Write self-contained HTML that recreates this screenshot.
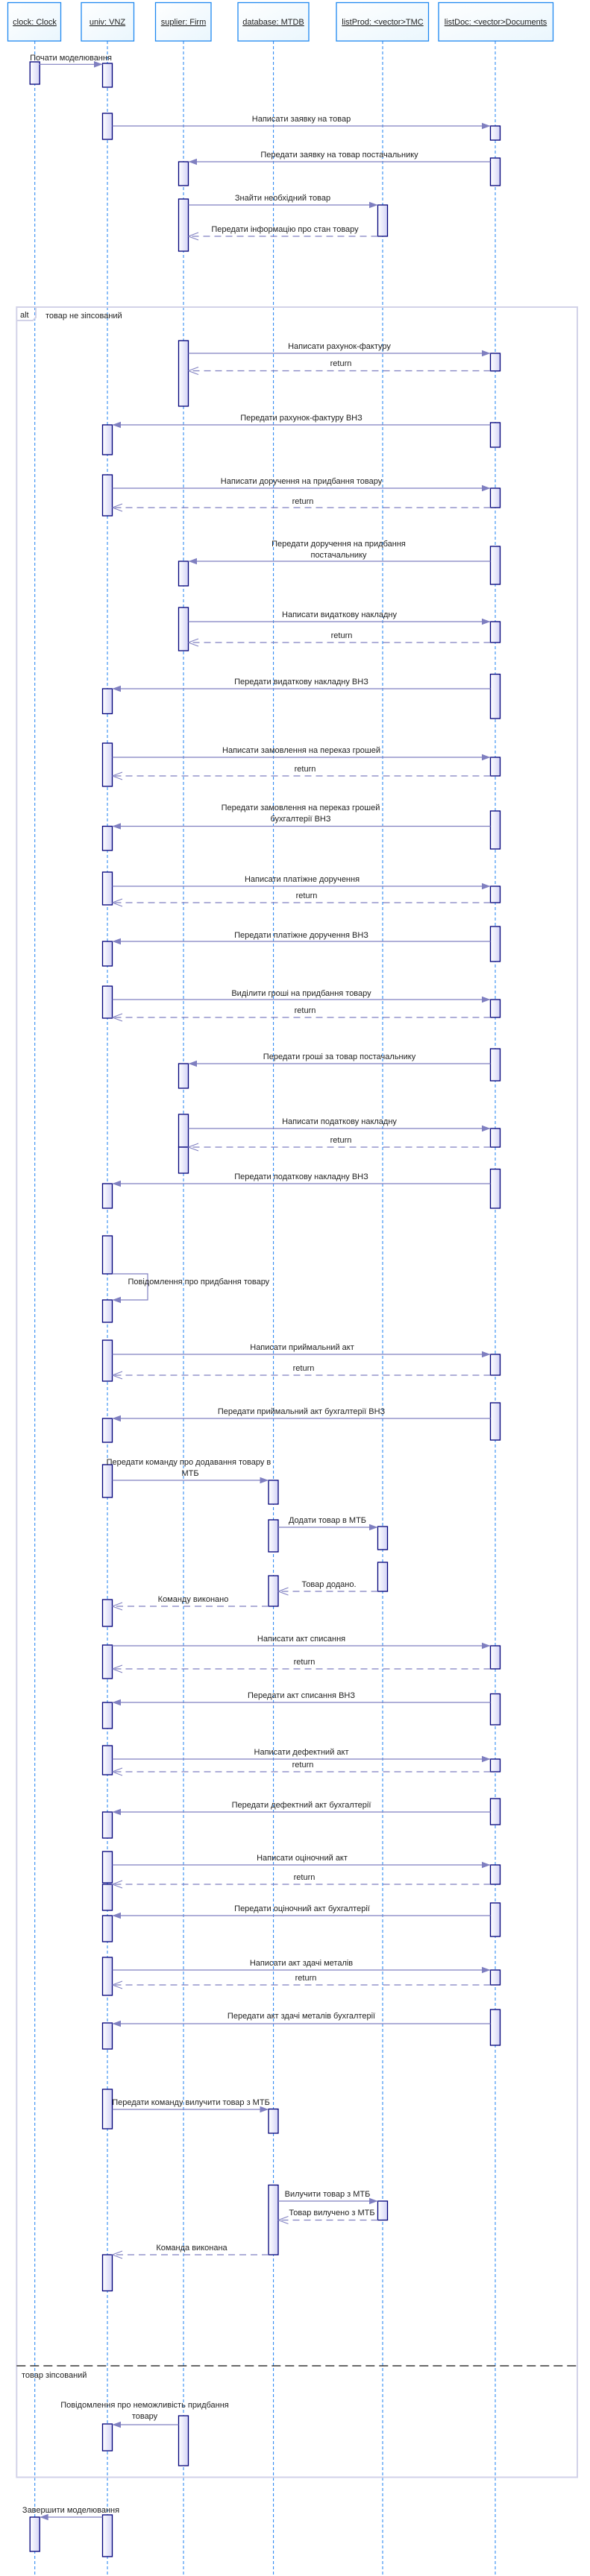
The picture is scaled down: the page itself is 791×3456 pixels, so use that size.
<!DOCTYPE html>
<html><head><meta charset="utf-8">
<style>
html,body{margin:0;padding:0;background:#fff;}
svg{display:block;}
text{font-family:"Liberation Sans","Noto Sans CJK SC",sans-serif;font-size:11px;fill:#222;}
.hd{fill:url(#hg);stroke:#1e88f0;stroke-width:1.3;}
.ll{stroke:#1e80f0;stroke-width:1;stroke-dasharray:4,3;}
.a{fill:url(#ag);stroke:#00007a;stroke-width:1.3;}
.m{stroke:#7f7fc0;stroke-width:1.2;fill:none;}
.r{stroke:#7f7fc0;stroke-width:1.2;fill:none;stroke-dasharray:9,6;}
.ah{fill:#7f7fc0;}
.oh{stroke:#7f7fc0;stroke-width:1;fill:none;}
.c{text-anchor:middle;}
</style></head>
<body>
<svg width="791" height="3456" viewBox="0 0 791 3456" xmlns="http://www.w3.org/2000/svg">
<defs>
<linearGradient id="hg" x1="0" y1="0" x2="1" y2="1"><stop offset="0" stop-color="#ffffff"/><stop offset="1" stop-color="#eaf6fd"/></linearGradient>
<linearGradient id="ag" x1="0" y1="0" x2="1" y2="0"><stop offset="0" stop-color="#ffffff"/><stop offset="1" stop-color="#d4d4f6"/></linearGradient>
</defs>

<!-- headers -->
<rect class="hd" x="10.5" y="3.5" width="71" height="51.5"/>
<rect class="hd" x="109" y="3.5" width="70.5" height="51.5"/>
<rect class="hd" x="208.5" y="3.5" width="74.5" height="51.5"/>
<rect class="hd" x="319" y="3.5" width="95" height="51.5"/>
<rect class="hd" x="451" y="3.5" width="123.5" height="51.5"/>
<rect class="hd" x="588" y="3.5" width="153.5" height="51.5"/>
<text class="c" x="46.5" y="33" text-decoration="underline">clock: Clock</text>
<text class="c" x="144" y="33" text-decoration="underline">univ: VNZ</text>
<text class="c" x="246" y="33" text-decoration="underline">suplier: Firm</text>
<text class="c" x="366.5" y="33" text-decoration="underline">database: MTDB</text>
<text class="c" x="513" y="33" text-decoration="underline">listProd: &lt;vector&gt;TMC</text>
<text class="c" x="664.5" y="33" text-decoration="underline">listDoc: &lt;vector&gt;Documents</text>

<!-- lifelines -->
<line class="ll" x1="46.7" y1="55" x2="46.7" y2="3456"/>
<line class="ll" x1="144" y1="55" x2="144" y2="3456"/>
<line class="ll" x1="246" y1="55" x2="246" y2="3456"/>
<line class="ll" x1="366.6" y1="55" x2="366.6" y2="3456"/>
<line class="ll" x1="513" y1="55" x2="513" y2="3456"/>
<line class="ll" x1="664" y1="55" x2="664" y2="3456"/>

<!-- frame -->
<rect x="22.3" y="412" width="751.7" height="2911.5" fill="none" stroke="#d2d2e8" stroke-width="2"/>
<path d="M22.3,430 H44 L48,426 V412" fill="none" stroke="#d2d2e8" stroke-width="2"/>
<text x="27" y="426">alt</text>
<text x="61" y="427">товар не зіпсований</text>
<line x1="22.3" y1="3174" x2="774" y2="3174" stroke="#111" stroke-width="1.2" stroke-dasharray="12,6"/>
<text x="29" y="3190">товар зіпсований</text>

<!-- activations -->
<g class="a">
<rect class="a" x="40.2" y="83" width="13" height="30"/>
<rect class="a" x="40.2" y="3377" width="13" height="46"/>
<rect class="a" x="137.5" y="85" width="13" height="32"/>
<rect class="a" x="137.5" y="152" width="13" height="35"/>
<rect class="a" x="137.5" y="570" width="13" height="40"/>
<rect class="a" x="137.5" y="637" width="13" height="55"/>
<rect class="a" x="137.5" y="924" width="13" height="33.5"/>
<rect class="a" x="137.5" y="997" width="13" height="58"/>
<rect class="a" x="137.5" y="1108.5" width="13" height="32.5"/>
<rect class="a" x="137.5" y="1170" width="13" height="44"/>
<rect class="a" x="137.5" y="1263" width="13" height="33"/>
<rect class="a" x="137.5" y="1323" width="13" height="43"/>
<rect class="a" x="137.5" y="1588" width="13" height="33"/>
<rect class="a" x="137.5" y="1658" width="13" height="51"/>
<rect class="a" x="137.5" y="1744" width="13" height="30"/>
<rect class="a" x="137.5" y="1798" width="13" height="55"/>
<rect class="a" x="137.5" y="1903" width="13" height="32"/>
<rect class="a" x="137.5" y="1965" width="13" height="44"/>
<rect class="a" x="137.5" y="2146" width="13" height="36"/>
<rect class="a" x="137.5" y="2207" width="13" height="45"/>
<rect class="a" x="137.5" y="2284" width="13" height="35"/>
<rect class="a" x="137.5" y="2342" width="13" height="39"/>
<rect class="a" x="137.5" y="2431" width="13" height="35"/>
<rect class="a" x="137.5" y="2484" width="13" height="42"/>
<rect class="a" x="137.5" y="2528" width="13" height="35"/>
<rect class="a" x="137.5" y="2570" width="13" height="35"/>
<rect class="a" x="137.5" y="2626" width="13" height="51"/>
<rect class="a" x="137.5" y="2714" width="13" height="35"/>
<rect class="a" x="137.5" y="2803" width="13" height="53"/>
<rect class="a" x="137.5" y="3025" width="13" height="48.5"/>
<rect class="a" x="137.5" y="3252" width="13" height="36"/>
<rect class="a" x="137.5" y="3374" width="13" height="56"/>

<rect class="a" x="239.5" y="217" width="13" height="32"/>
<rect class="a" x="239.5" y="267" width="13" height="70"/>
<rect class="a" x="239.5" y="457" width="13" height="88"/>
<rect class="a" x="239.5" y="753" width="13" height="33"/>
<rect class="a" x="239.5" y="815" width="13" height="58"/>
<rect class="a" x="239.5" y="1427" width="13" height="33"/>
<rect class="a" x="239.5" y="1495" width="13" height="44"/>
<rect class="a" x="239.5" y="1539" width="13" height="35"/>
<rect class="a" x="239.5" y="3241" width="13" height="67"/>

<rect class="a" x="360" y="1986" width="13" height="32"/>
<rect class="a" x="360" y="2039" width="13" height="43"/>
<rect class="a" x="360" y="2114" width="13" height="41"/>
<rect class="a" x="360" y="2829.5" width="13" height="32.5"/>
<rect class="a" x="360" y="2931.5" width="13" height="93.5"/>

<rect class="a" x="506.5" y="275" width="13" height="42"/>
<rect class="a" x="506.5" y="2048" width="13" height="31"/>
<rect class="a" x="506.5" y="2096" width="13" height="39"/>
<rect class="a" x="506.5" y="2953" width="13" height="25.5"/>

<rect class="a" x="657.5" y="169" width="13" height="19"/>
<rect class="a" x="657.5" y="212" width="13" height="37"/>
<rect class="a" x="657.5" y="474" width="13" height="23.7"/>
<rect class="a" x="657.5" y="567" width="13" height="33"/>
<rect class="a" x="657.5" y="655" width="13" height="26"/>
<rect class="a" x="657.5" y="733" width="13" height="51"/>
<rect class="a" x="657.5" y="834" width="13" height="28"/>
<rect class="a" x="657.5" y="904.5" width="13" height="59.5"/>
<rect class="a" x="657.5" y="1016" width="13" height="25"/>
<rect class="a" x="657.5" y="1088" width="13" height="51"/>
<rect class="a" x="657.5" y="1189" width="13" height="22"/>
<rect class="a" x="657.5" y="1243" width="13" height="47"/>
<rect class="a" x="657.5" y="1341" width="13" height="24"/>
<rect class="a" x="657.5" y="1407" width="13" height="43"/>
<rect class="a" x="657.5" y="1514" width="13" height="25"/>
<rect class="a" x="657.5" y="1568.5" width="13" height="52.5"/>
<rect class="a" x="657.5" y="1817" width="13" height="28"/>
<rect class="a" x="657.5" y="1882" width="13" height="50"/>
<rect class="a" x="657.5" y="2208" width="13" height="31"/>
<rect class="a" x="657.5" y="2272.5" width="13" height="41.5"/>
<rect class="a" x="657.5" y="2360" width="13" height="17"/>
<rect class="a" x="657.5" y="2413" width="13" height="35"/>
<rect class="a" x="657.5" y="2502" width="13" height="26"/>
<rect class="a" x="657.5" y="2553" width="13" height="45"/>
<rect class="a" x="657.5" y="2643" width="13" height="20"/>
<rect class="a" x="657.5" y="2696" width="13" height="48"/>
</g>

<!-- rightwards -->
<line class="m" x1="52.8" y1="86.3" x2="137.5" y2="86.3"/><polygon class="ah" points="137.5,86.3 126,82 126,90.6"/>
<line class="m" x1="150.5" y1="169" x2="657.5" y2="169"/><polygon class="ah" points="657.5,169 646,164.7 646,173.3"/>
<line class="m" x1="252.5" y1="275" x2="506.5" y2="275"/><polygon class="ah" points="506.5,275 495,270.7 495,279.3"/>
<line class="m" x1="252.5" y1="474" x2="657.5" y2="474"/><polygon class="ah" points="657.5,474 646,469.7 646,478.3"/>
<line class="m" x1="150.5" y1="655" x2="657.5" y2="655"/><polygon class="ah" points="657.5,655 646,650.7 646,659.3"/>
<line class="m" x1="252.5" y1="834" x2="657.5" y2="834"/><polygon class="ah" points="657.5,834 646,829.7 646,838.3"/>
<line class="m" x1="150.5" y1="1016" x2="657.5" y2="1016"/><polygon class="ah" points="657.5,1016 646,1011.7 646,1020.3"/>
<line class="m" x1="150.5" y1="1189" x2="657.5" y2="1189"/><polygon class="ah" points="657.5,1189 646,1184.7 646,1193.3"/>
<line class="m" x1="150.5" y1="1341" x2="657.5" y2="1341"/><polygon class="ah" points="657.5,1341 646,1336.7 646,1345.3"/>
<line class="m" x1="252.5" y1="1514" x2="657.5" y2="1514"/><polygon class="ah" points="657.5,1514 646,1509.7 646,1518.3"/>
<line class="m" x1="150.5" y1="1817" x2="657.5" y2="1817"/><polygon class="ah" points="657.5,1817 646,1812.7 646,1821.3"/>
<line class="m" x1="150.5" y1="1986" x2="360" y2="1986"/><polygon class="ah" points="360,1986 348.5,1981.7 348.5,1990.3"/>
<line class="m" x1="373" y1="2049" x2="506.5" y2="2049"/><polygon class="ah" points="506.5,2049 495,2044.7 495,2053.3"/>
<line class="m" x1="150.5" y1="2208" x2="657.5" y2="2208"/><polygon class="ah" points="657.5,2208 646,2203.7 646,2212.3"/>
<line class="m" x1="150.5" y1="2360" x2="657.5" y2="2360"/><polygon class="ah" points="657.5,2360 646,2355.7 646,2364.3"/>
<line class="m" x1="150.5" y1="2502" x2="657.5" y2="2502"/><polygon class="ah" points="657.5,2502 646,2497.7 646,2506.3"/>
<line class="m" x1="150.5" y1="2643" x2="657.5" y2="2643"/><polygon class="ah" points="657.5,2643 646,2638.7 646,2647.3"/>
<line class="m" x1="150.5" y1="2830" x2="360" y2="2830"/><polygon class="ah" points="360,2830 348.5,2825.7 348.5,2834.3"/>
<line class="m" x1="373" y1="2953" x2="506.5" y2="2953"/><polygon class="ah" points="506.5,2953 495,2948.7 495,2957.3"/>
<!-- leftwards -->
<line class="m" x1="657.5" y1="217" x2="252.5" y2="217"/><polygon class="ah" points="252.5,217 264,212.7 264,221.3"/>
<line class="m" x1="657.5" y1="570" x2="150.5" y2="570"/><polygon class="ah" points="150.5,570 162,565.7 162,574.3"/>
<line class="m" x1="657.5" y1="753" x2="252.5" y2="753"/><polygon class="ah" points="252.5,753 264,748.7 264,757.3"/>
<line class="m" x1="657.5" y1="924" x2="150.5" y2="924"/><polygon class="ah" points="150.5,924 162,919.7 162,928.3"/>
<line class="m" x1="657.5" y1="1108.5" x2="150.5" y2="1108.5"/><polygon class="ah" points="150.5,1108.5 162,1104.2 162,1112.8"/>
<line class="m" x1="657.5" y1="1263" x2="150.5" y2="1263"/><polygon class="ah" points="150.5,1263 162,1258.7 162,1267.3"/>
<line class="m" x1="657.5" y1="1427" x2="252.5" y2="1427"/><polygon class="ah" points="252.5,1427 264,1422.7 264,1431.3"/>
<line class="m" x1="657.5" y1="1588" x2="150.5" y2="1588"/><polygon class="ah" points="150.5,1588 162,1583.7 162,1592.3"/>
<polyline class="m" points="150.5,1709 198,1709 198,1744 150.5,1744"/><polygon class="ah" points="150.5,1744 162,1739.7 162,1748.3"/>
<line class="m" x1="657.5" y1="1903" x2="150.5" y2="1903"/><polygon class="ah" points="150.5,1903 162,1898.7 162,1907.3"/>
<line class="m" x1="657.5" y1="2284" x2="150.5" y2="2284"/><polygon class="ah" points="150.5,2284 162,2279.7 162,2288.3"/>
<line class="m" x1="657.5" y1="2431" x2="150.5" y2="2431"/><polygon class="ah" points="150.5,2431 162,2426.7 162,2435.3"/>
<line class="m" x1="657.5" y1="2570" x2="150.5" y2="2570"/><polygon class="ah" points="150.5,2570 162,2565.7 162,2574.3"/>
<line class="m" x1="657.5" y1="2715" x2="150.5" y2="2715"/><polygon class="ah" points="150.5,2715 162,2710.7 162,2719.3"/>
<line class="m" x1="239.5" y1="3253" x2="150.5" y2="3253"/><polygon class="ah" points="150.5,3253 162,3248.7 162,3257.3"/>
<line class="m" x1="137.5" y1="3377" x2="53.2" y2="3377"/><polygon class="ah" points="53.2,3377 64.7,3372.7 64.7,3381.3"/>

<!-- returns -->
<line class="r" x1="506.5" y1="317" x2="252.5" y2="317"/><polyline class="oh" points="266,312 252.5,317 266,322"/>
<line class="r" x1="657.5" y1="497.5" x2="252.5" y2="497.5"/><polyline class="oh" points="266,492.5 252.5,497.5 266,502.5"/>
<line class="r" x1="657.5" y1="681" x2="150.5" y2="681"/><polyline class="oh" points="164,676 150.5,681 164,686"/>
<line class="r" x1="657.5" y1="862" x2="252.5" y2="862"/><polyline class="oh" points="266,857 252.5,862 266,867"/>
<line class="r" x1="657.5" y1="1041" x2="150.5" y2="1041"/><polyline class="oh" points="164,1036 150.5,1041 164,1046"/>
<line class="r" x1="657.5" y1="1211" x2="150.5" y2="1211"/><polyline class="oh" points="164,1206 150.5,1211 164,1216"/>
<line class="r" x1="657.5" y1="1365" x2="150.5" y2="1365"/><polyline class="oh" points="164,1360 150.5,1365 164,1370"/>
<line class="r" x1="657.5" y1="1539" x2="252.5" y2="1539"/><polyline class="oh" points="266,1534 252.5,1539 266,1544"/>
<line class="r" x1="657.5" y1="1845" x2="150.5" y2="1845"/><polyline class="oh" points="164,1840 150.5,1845 164,1850"/>
<line class="r" x1="506.5" y1="2135" x2="373" y2="2135"/><polyline class="oh" points="386.5,2130 373,2135 386.5,2140"/>
<line class="r" x1="360" y1="2155" x2="150.5" y2="2155"/><polyline class="oh" points="164,2150 150.5,2155 164,2160"/>
<line class="r" x1="657.5" y1="2239" x2="150.5" y2="2239"/><polyline class="oh" points="164,2234 150.5,2239 164,2244"/>
<line class="r" x1="657.5" y1="2377" x2="150.5" y2="2377"/><polyline class="oh" points="164,2372 150.5,2377 164,2382"/>
<line class="r" x1="657.5" y1="2528" x2="150.5" y2="2528"/><polyline class="oh" points="164,2523 150.5,2528 164,2533"/>
<line class="r" x1="657.5" y1="2663" x2="150.5" y2="2663"/><polyline class="oh" points="164,2658 150.5,2663 164,2668"/>
<line class="r" x1="506.5" y1="2978.5" x2="373" y2="2978.5"/><polyline class="oh" points="386.5,2973.5 373,2978.5 386.5,2983.5"/>
<line class="r" x1="360" y1="3025" x2="150.5" y2="3025"/><polyline class="oh" points="164,3020 150.5,3025 164,3030"/>

<!-- labels -->
<text class="c" x="95" y="81">Почати моделювання</text>
<text class="c" x="404" y="163">Написати заявку на товар</text>
<text class="c" x="455" y="211">Передати заявку на товар постачальнику</text>
<text class="c" x="379" y="269">Знайти необхідний товар</text>
<text class="c" x="382" y="311">Передати інформацію про стан товару</text>
<text class="c" x="455" y="468">Написати рахунок-фактуру</text>
<text class="c" x="457" y="491">return</text>
<text class="c" x="404" y="564">Передати рахунок-фактуру ВНЗ</text>
<text class="c" x="404" y="649">Написати доручення на придбання товару</text>
<text class="c" x="406" y="676">return</text>
<text class="c" x="454" y="733">Передати доручення на придбання</text>
<text class="c" x="454" y="748">постачальнику</text>
<text class="c" x="455" y="828">Написати видаткову накладну</text>
<text class="c" x="458" y="856">return</text>
<text class="c" x="404" y="918">Передати видаткову накладну ВНЗ</text>
<text class="c" x="404" y="1010">Написати замовлення на переказ грошей</text>
<text class="c" x="409" y="1035">return</text>
<text class="c" x="403" y="1087">Передати замовлення на переказ грошей</text>
<text class="c" x="403" y="1102">бухгалтерії ВНЗ</text>
<text class="c" x="405" y="1183">Написати платіжне доручення</text>
<text class="c" x="411" y="1205">return</text>
<text class="c" x="404" y="1258">Передати платіжне доручення ВНЗ</text>
<text class="c" x="404" y="1336">Виділити гроші на придбання товару</text>
<text class="c" x="409" y="1359">return</text>
<text class="c" x="455" y="1421">Передати гроші за товар постачальнику</text>
<text class="c" x="455" y="1508">Написати податкову накладну</text>
<text class="c" x="457" y="1533">return</text>
<text class="c" x="404" y="1582">Передати податкову накладну ВНЗ</text>
<text x="171.5" y="1723">Повідомлення про придбання товару</text>
<text class="c" x="405" y="1811">Написати приймальний акт</text>
<text class="c" x="407" y="1839">return</text>
<text class="c" x="404" y="1897">Передати приймальний акт бухгалтерії ВНЗ</text>
<text x="142.6" y="1965">Передати команду про додавання товару в</text>
<text class="c" x="255" y="1980">МТБ</text>
<text class="c" x="439" y="2043">Додати товар в МТБ</text>
<text class="c" x="441" y="2129">Товар додано.</text>
<text class="c" x="259" y="2149">Команду виконано</text>
<text class="c" x="404" y="2202">Написати акт списання</text>
<text class="c" x="408" y="2233">return</text>
<text class="c" x="404" y="2278">Передати акт списання ВНЗ</text>
<text class="c" x="404" y="2354">Написати дефектний акт</text>
<text class="c" x="406" y="2371">return</text>
<text class="c" x="404" y="2425">Передати дефектний акт бухгалтерії</text>
<text class="c" x="405" y="2496">Написати оціночний акт</text>
<text class="c" x="408" y="2522">return</text>
<text class="c" x="405" y="2564">Передати оціночний акт бухгалтерії</text>
<text class="c" x="404" y="2637">Написати акт здачі металів</text>
<text class="c" x="410" y="2657">return</text>
<text class="c" x="404" y="2708">Передати акт здачі металів бухгалтерії</text>
<text class="c" x="256" y="2824">Передати команду вилучити товар з МТБ</text>
<text class="c" x="439" y="2947">Вилучити товар з МТБ</text>
<text class="c" x="445" y="2972">Товар вилучено з МТБ</text>
<text class="c" x="257" y="3019">Команда виконана</text>
<text class="c" x="194" y="3230">Повідомлення про неможливість придбання</text>
<text class="c" x="194" y="3245">товару</text>
<text class="c" x="95" y="3371">Завершити моделювання</text>
</svg>
</body></html>
